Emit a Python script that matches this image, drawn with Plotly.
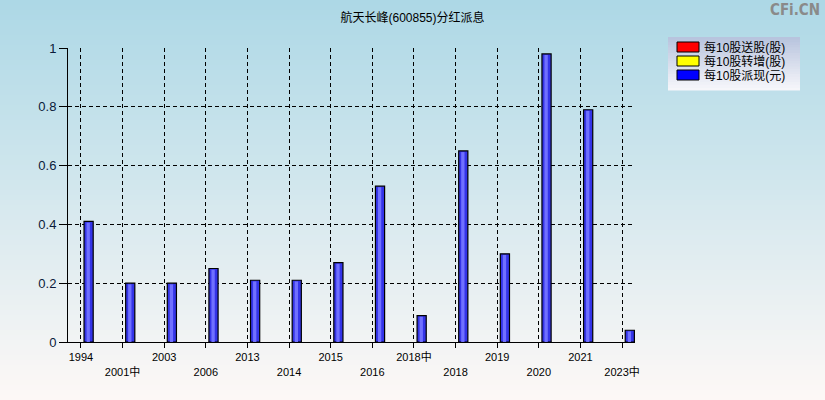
import plotly.graph_objects as go

# ---- data ----
categories = ["1994", "2001中", "2003", "2006", "2013", "2014", "2015", "2016",
              "2018中", "2018", "2019", "2020", "2021", "2023中"]
song_gu = [0] * 14          # 每10股送股(股)
zhuan_zeng = [0] * 14       # 每10股转增(股)
pai_xian = [0.41, 0.20, 0.20, 0.25, 0.21, 0.21, 0.27, 0.53, 0.09, 0.65, 0.30, 0.98, 0.79, 0.04]  # 每10股派现(元)
series_names = ["每10股送股(股)", "每10股转增(股)", "每10股派现(元)"]
series_colors = ["#ff0000", "#ffff00", "#0000ff"]
y_ticks = [0, 0.2, 0.4, 0.6, 0.8, 1]
y_tick_labels = ["0", "0.2", "0.4", "0.6", "0.8", "1"]

xpos = list(range(len(categories)))
tick_text = [c if i % 2 == 0 else "<br>" + c for i, c in enumerate(categories)]

FONT = "Liberation Sans, Arial, Noto Sans CJK SC"

fig = go.Figure()

BAR_OFF = 0.075
BAR_W = 0.22

fig.add_trace(go.Bar(x=xpos, y=song_gu, name=series_names[0], offset=BAR_OFF, width=BAR_W,
                     marker=dict(color=series_colors[0], line=dict(color="#000000", width=1))))
fig.add_trace(go.Bar(x=xpos, y=zhuan_zeng, name=series_names[1], offset=BAR_OFF, width=BAR_W,
                     marker=dict(color=series_colors[1], line=dict(color="#000000", width=1))))
fig.add_trace(go.Bar(x=xpos, y=pai_xian, name=series_names[2], offset=BAR_OFF, width=BAR_W,
                     marker=dict(color="#3434e8", line=dict(color="#000000", width=1.2))))
# highlight for cylindrical look
fig.add_trace(go.Bar(x=xpos, y=[v - 0.004 for v in pai_xian], offset=BAR_OFF + 0.06, width=0.08,
                     marker=dict(color="#7070ff", line=dict(width=0)), showlegend=False,
                     hoverinfo="skip"))

shapes = []
annotations = []
W, H = 825, 400
L, R, T, B = 68, 190, 48, 58
pw, ph = W - L - R, H - T - B


def px_x(x):
    return (x - L) / pw


def px_y(y):
    return (H - B - y) / ph


# background gradient (full figure)
N = 80
top = (173, 216, 230)
bot = (253, 248, 246)
for i in range(N):
    f = i / (N - 1)
    c = tuple(round(top[k] + (bot[k] - top[k]) * f) for k in range(3))
    y0px = i * H / N
    y1px = (i + 1) * H / N + 0.6
    shapes.append(dict(type="rect", xref="paper", yref="paper",
                       x0=px_x(0), x1=px_x(W), y0=px_y(y1px), y1=px_y(y0px),
                       fillcolor="rgb(%d,%d,%d)" % c, line=dict(width=0), layer="below"))
# legend box gradient
lx0, lx1, ly0, ly1 = 668, 800, 37, 90
M = 20
ltop = (184, 196, 222)
lbot = (246, 246, 250)
for i in range(M):
    f = i / (M - 1)
    c = tuple(round(ltop[k] + (lbot[k] - ltop[k]) * f) for k in range(3))
    y0px = ly0 + i * (ly1 - ly0) / M
    y1px = ly0 + (i + 1) * (ly1 - ly0) / M + 0.5
    shapes.append(dict(type="rect", xref="paper", yref="paper",
                       x0=px_x(lx0), x1=px_x(lx1), y0=px_y(y1px), y1=px_y(y0px),
                       fillcolor="rgb(%d,%d,%d)" % c, line=dict(width=0), layer="below"))
# manual legend entries
for i, (name, col) in enumerate(zip(series_names, series_colors)):
    cy = 47 + i * 14
    shapes.append(dict(type="rect", xref="paper", yref="paper",
                       x0=px_x(677), x1=px_x(699), y0=px_y(cy + 5), y1=px_y(cy - 5),
                       fillcolor=col, line=dict(color="#000000", width=1), layer="above"))
    annotations.append(dict(text=name, xref="paper", yref="paper", x=px_x(702), y=px_y(cy + 0.5),
                            xanchor="left", yanchor="middle", showarrow=False,
                            font=dict(size=12, family=FONT, color="#000000")))

annotations.append(dict(text="<b>CFi.CN</b>", xref="paper", yref="paper",
                        x=px_x(822), y=px_y(10), xanchor="right", yanchor="middle",
                        showarrow=False,
                        font=dict(size=15, family="DejaVu Sans Condensed, Liberation Sans",
                                  color="#8a8a8a")))

fig.update_layout(
    width=W, height=H,
    margin=dict(l=L, r=R, t=T, b=B, autoexpand=False),
    paper_bgcolor="rgba(0,0,0,0)",
    plot_bgcolor="rgba(0,0,0,0)",
    barmode="overlay",
    font=dict(family=FONT, size=12, color="#000000"),
    title=dict(text="航天长峰(600855)分红派息", x=0.5, xref="container", xanchor="center",
               y=1 - 18 / H, yanchor="middle", font=dict(size=12, family=FONT, color="#000000")),
    shapes=shapes,
    annotations=annotations,
    showlegend=False,
    xaxis=dict(range=[-0.31, 13.31], tickmode="array", tickvals=xpos, ticktext=tick_text,
               showgrid=True, gridcolor="#000000", griddash="4px,3px", gridwidth=1,
               showline=True, linecolor="#000000", linewidth=1,
               ticks="outside", ticklen=5, tickcolor="#000000",
               tickfont=dict(size=11, family=FONT, color="#000000"), zeroline=False,
               fixedrange=True),
    yaxis=dict(range=[0, 1], tickmode="array", tickvals=y_ticks, ticktext=y_tick_labels,
               showgrid=True, gridcolor="#000000", griddash="4px,3px", gridwidth=1,
               showline=True, linecolor="#000000", linewidth=1,
               ticks="outside", ticklen=8, tickcolor="#000000",
               tickfont=dict(size=13, family=FONT, color="#0a1a3a"), zeroline=False,
               fixedrange=True),
)

fig.write_html("out.html", config={"displayModeBar": False},
               post_script="document.body.style.margin='0';document.body.style.padding='0';")
